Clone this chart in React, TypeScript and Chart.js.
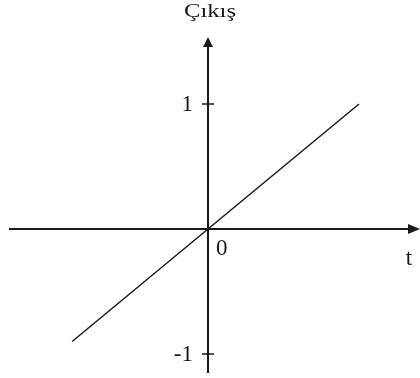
import React, { useEffect, useRef } from "react";
import { Chart, registerables } from "chart.js";

Chart.register(...registerables);

// Data
const tValues: number[] = [-0.9, 1.0];
const outValues: number[] = [-0.9, 1.0];
const yTickValues: number[] = [-1, 1];
const yTickLabels: string[] = ["-1", "1"];
const originLabel = "0";
const xAxisLabel = "t";
const yAxisLabel = "Çıkış";

const AXIS_COLOR = "#1a1a1a";
const LINE_COLOR = "#1a1a1a";

const axesPlugin = {
  id: "customAxes",
  beforeDatasetsDraw(chart: any) {
    const { ctx, chartArea, scales } = chart;
    const xs = scales.x;
    const ys = scales.y;
    const ox = xs.getPixelForValue(0);
    const oy = ys.getPixelForValue(0);
    ctx.save();
    ctx.strokeStyle = AXIS_COLOR;
    ctx.fillStyle = AXIS_COLOR;
    ctx.lineWidth = 2;
    // x axis
    ctx.beginPath();
    ctx.moveTo(chartArea.left, oy);
    ctx.lineTo(chartArea.right - 8, oy);
    ctx.stroke();
    ctx.beginPath();
    ctx.moveTo(chartArea.right, oy);
    ctx.lineTo(chartArea.right - 12, oy - 5);
    ctx.lineTo(chartArea.right - 12, oy + 5);
    ctx.closePath();
    ctx.fill();
    // y axis
    ctx.beginPath();
    ctx.moveTo(ox, chartArea.bottom);
    ctx.lineTo(ox, chartArea.top + 8);
    ctx.stroke();
    ctx.beginPath();
    ctx.moveTo(ox, chartArea.top);
    ctx.lineTo(ox - 5, chartArea.top + 10);
    ctx.lineTo(ox + 5, chartArea.top + 10);
    ctx.closePath();
    ctx.fill();
    // y ticks
    ctx.lineWidth = 1.5;
    ctx.font = "23px 'Liberation Serif', serif";
    ctx.textAlign = "right";
    ctx.textBaseline = "middle";
    yTickValues.forEach((v, i) => {
      const py = ys.getPixelForValue(v);
      ctx.beginPath();
      ctx.moveTo(ox - 6, py);
      ctx.lineTo(ox + 6, py);
      ctx.stroke();
      ctx.fillText(yTickLabels[i], ox - 15, py + 1);
    });
    // origin label
    ctx.textAlign = "left";
    ctx.textBaseline = "top";
    ctx.fillText(originLabel, ox + 8, oy + 8);
    // x axis label
    ctx.textAlign = "center";
    ctx.textBaseline = "alphabetic";
    ctx.fillText(xAxisLabel, chartArea.right - 11, oy + 36);
    // y axis label (title)
    ctx.save();
    ctx.font = "19px 'Liberation Serif', serif";
    ctx.translate(ox + 2, 17);
    ctx.scale(1.3, 1);
    ctx.textAlign = "center";
    ctx.fillText(yAxisLabel, 0, 0);
    ctx.restore();
    ctx.restore();
  },
};

export default function App() {
  const canvasRef = useRef<HTMLCanvasElement | null>(null);

  useEffect(() => {
    document.body.style.margin = "0";
    const canvas = canvasRef.current;
    if (!canvas) return;
    const chart = new Chart(canvas, {
      type: "scatter",
      data: {
        datasets: [
          {
            data: tValues.map((t, i) => ({ x: t, y: outValues[i] })),
            showLine: true,
            borderColor: LINE_COLOR,
            borderWidth: 1.5,
            pointRadius: 0,
            fill: false,
          },
        ],
      },
      options: {
        responsive: false,
        animation: false,
        layout: { padding: { left: 9, right: 0, top: 37, bottom: 5 } },
        plugins: {
          legend: { display: false },
          tooltip: { enabled: false },
        },
        scales: {
          x: { type: "linear", display: false, min: -1.318, max: 1.404 },
          y: { type: "linear", display: false, min: -1.152, max: 1.536 },
        },
      },
      plugins: [axesPlugin],
    });
    return () => chart.destroy();
  }, []);

  return (
    <div style={{ position: "absolute", left: 0, top: 0, width: 420, height: 378, background: "#fff" }}>
      <canvas ref={canvasRef} width={420} height={378} />
    </div>
  );
}
